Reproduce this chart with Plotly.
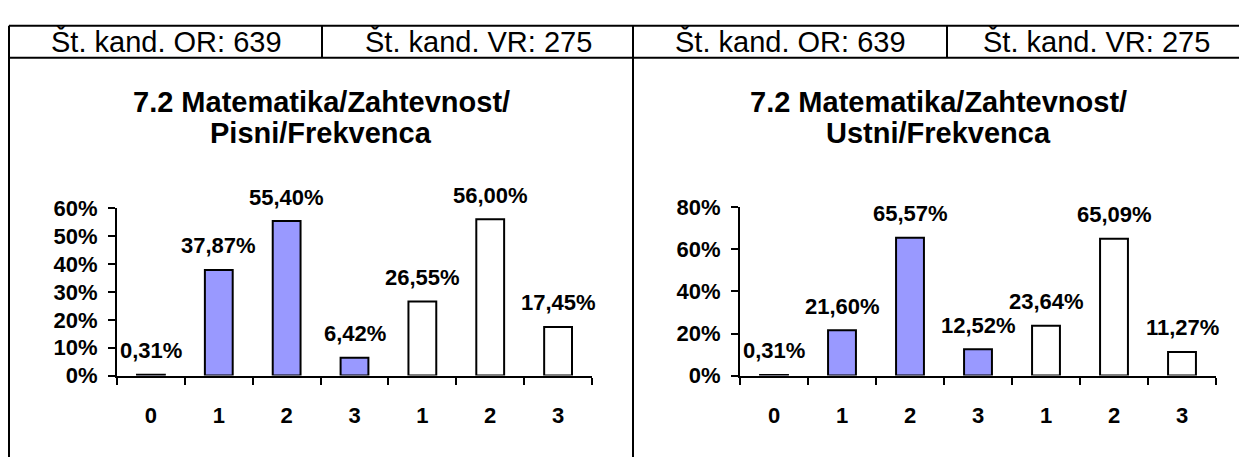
import plotly.graph_objects as go

# ---- data ----
categories = ["0", "1", "2", "3", "1", "2", "3"]
pisni_values = [0.31, 37.87, 55.40, 6.42, 26.55, 56.00, 17.45]
ustni_values = [0.31, 21.60, 65.57, 12.52, 23.64, 65.09, 11.27]
bar_fill = ["#9999FF", "#9999FF", "#9999FF", "#9999FF", "#FFFFFF", "#FFFFFF", "#FFFFFF"]
title_left = ["7.2 Matematika/Zahtevnost/", "Pisni/Frekvenca"]
title_right = ["7.2 Matematika/Zahtevnost/", "Ustni/Frekvenca"]
header_texts = ["Št. kand. OR: 639", "Št. kand. VR: 275", "Št. kand. OR: 639", "Št. kand. VR: 275"]

W, H = 1247, 461
OFF = 8  # page body margin: screenshot px -> figure px
FONT = "Arial, Liberation Sans, sans-serif"

def px_x(p):
    return (p - OFF) / W

def px_y(p):
    return (H - (p - OFF)) / H

def fmt(v):
    return f"{v:.2f}".replace(".", ",") + "%"

xs = list(range(len(categories)))

fig = go.Figure()
fig.add_trace(go.Bar(x=xs, y=pisni_values, width=0.41,
                     marker=dict(color=bar_fill, line=dict(color="black", width=2)),
                     xaxis="x", yaxis="y", showlegend=False, hoverinfo="skip"))
fig.add_trace(go.Bar(x=xs, y=ustni_values, width=0.41,
                     marker=dict(color=bar_fill, line=dict(color="black", width=2)),
                     xaxis="x2", yaxis="y2", showlegend=False, hoverinfo="skip"))

LBL = 22
xcommon = dict(range=[-0.5, 6.5], tickmode="array", tickvals=xs, ticktext=categories,
               ticks="", showline=True, linecolor="black", linewidth=2, showgrid=False,
               zeroline=False, fixedrange=True, ticklabelstandoff=19,
               tickfont=dict(family=FONT, size=LBL, color="black", weight="bold"),
               minor=dict(tickmode="linear", tick0=-0.5, dtick=1, ticks="outside",
                          ticklen=7, tickwidth=2, tickcolor="black", showgrid=False))
ycommon = dict(showline=True, linecolor="black", linewidth=2, showgrid=False, zeroline=False,
               ticks="outside", ticklen=7, tickwidth=2, tickcolor="black", ticksuffix="%",
               ticklabelstandoff=6,
               tickfont=dict(family=FONT, size=LBL, color="black", weight="bold"))

fig.update_layout(
    width=W, height=H, margin=dict(l=0, r=0, t=0, b=0),
    paper_bgcolor="white", plot_bgcolor="rgba(0,0,0,0)",
    xaxis=dict(domain=[px_x(117), px_x(592)], anchor="y", **xcommon),
    yaxis=dict(domain=[px_y(384), px_y(207)], anchor="x", range=[0, 60], dtick=10, **ycommon),
    xaxis2=dict(domain=[px_x(740), px_x(1216)], anchor="y2", **xcommon),
    yaxis2=dict(domain=[px_y(384), px_y(206)], anchor="x2", range=[0, 80], dtick=20, **ycommon),
)

annotations = []
for xr, yr, vals in [("x", "y", pisni_values), ("x2", "y2", ustni_values)]:
    for xi, v in zip(xs, vals):
        annotations.append(dict(x=xi, y=v, xref=xr, yref=yr, text=fmt(v), showarrow=False,
                                yanchor="middle", yshift=24,
                                font=dict(family=FONT, size=LBL, color="black", weight="bold")))

# titles (two lines each)
for cx, lines in [(321, title_left), (939, title_right)]:
    for cy, t in zip([95, 128], lines):
        annotations.append(dict(x=px_x(cx), y=px_y(cy), xref="paper", yref="paper", text=t,
                                showarrow=False, xanchor="center", yanchor="middle",
                                font=dict(family=FONT, size=29, color="black", weight="bold")))

# header cell texts
for cx, t in zip([166, 478, 790, 1096], header_texts):
    annotations.append(dict(x=px_x(cx), y=px_y(31), xref="paper", yref="paper", text=t,
                            showarrow=False, xanchor="center", yanchor="middle",
                            font=dict(family=FONT, size=29, color="black")))
fig.update_layout(annotations=annotations)

# table frame lines
shapes = []
def line(x0, y0, x1, y1):
    shapes.append(dict(type="line", xref="paper", yref="paper",
                       x0=px_x(x0), y0=px_y(y0), x1=px_x(x1), y1=px_y(y1),
                       line=dict(color="black", width=2)))
line(9, 14, 1245, 14)
line(9, 48, 1245, 48)
line(9, 14, 9, 470)
line(1245, 14, 1245, 470)
line(633, 14, 633, 470)
line(322, 14, 322, 48)
line(947, 14, 947, 48)
fig.update_layout(shapes=shapes)

fig.write_html("out.html")
